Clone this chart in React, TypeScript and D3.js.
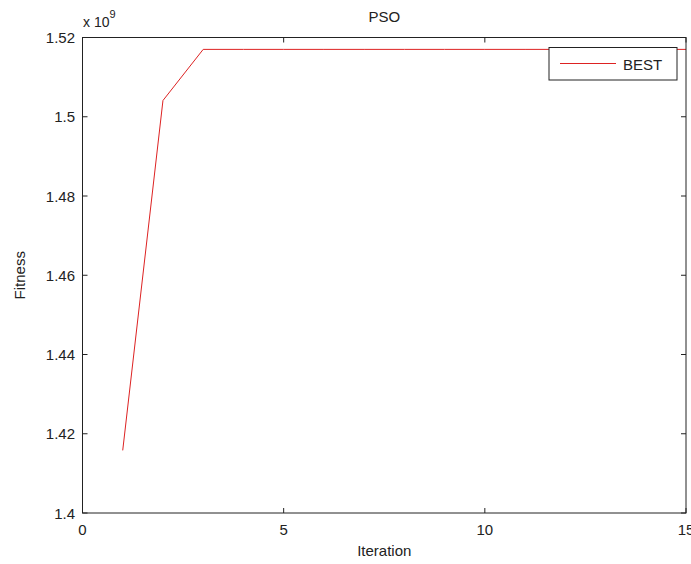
import { useEffect, useRef } from "react";
import * as d3 from "d3";

// PSO convergence: best fitness per iteration
const iterations = [1, 2, 3, 4, 5, 6, 7, 8, 9, 10, 11, 12, 13, 14, 15];
const bestFitness = [
  1.4158e9, 1.5041e9, 1.517e9, 1.517e9, 1.517e9, 1.517e9, 1.517e9, 1.517e9,
  1.517e9, 1.517e9, 1.517e9, 1.517e9, 1.517e9, 1.517e9, 1.517e9,
];
const xTicks = [0, 5, 10, 15];
const yTicks = [1.4, 1.42, 1.44, 1.46, 1.48, 1.5, 1.52];
const yTickLabels = ["1.4", "1.42", "1.44", "1.46", "1.48", "1.5", "1.52"];
const seriesName = "BEST";

const App = () => {
  const ref = useRef<SVGSVGElement | null>(null);

  useEffect(() => {
    if (!ref.current) return;
    const W = 691;
    const H = 564;
    const left = 82.5, right = 686, top = 37.5, bottom = 513;
    const font = "'Liberation Sans', Arial, sans-serif";
    const axisColor = "#222";

    const svg = d3.select(ref.current);
    svg.selectAll("*").remove();
    svg.attr("width", W).attr("height", H);

    svg.append("rect").attr("width", W).attr("height", H).attr("fill", "#fff");

    const x = d3.scaleLinear().domain([0, 15]).range([left, right]);
    const y = d3.scaleLinear().domain([1.4e9, 1.52e9]).range([bottom, top]);

    // data line
    const pts = iterations.map((it, i) => [it, bestFitness[i]] as [number, number]);
    const line = d3
      .line<[number, number]>()
      .x((d) => x(d[0]))
      .y((d) => y(d[1]));
    svg
      .append("path")
      .datum(pts)
      .attr("d", line)
      .attr("fill", "none")
      .attr("stroke", "#dd2222")
      .attr("stroke-width", 1);

    // box
    svg
      .append("rect")
      .attr("x", left)
      .attr("y", top)
      .attr("width", right - left)
      .attr("height", bottom - top)
      .attr("fill", "none")
      .attr("stroke", axisColor)
      .attr("stroke-width", 1);

    const tl = 5;
    // x ticks (bottom and top, inward)
    xTicks.forEach((t) => {
      const px = x(t);
      svg.append("line").attr("x1", px).attr("x2", px).attr("y1", bottom).attr("y2", bottom - tl).attr("stroke", axisColor);
      svg.append("line").attr("x1", px).attr("x2", px).attr("y1", top).attr("y2", top + tl).attr("stroke", axisColor);
      svg
        .append("text")
        .attr("x", px)
        .attr("y", 535)
        .attr("text-anchor", "middle")
        .attr("font-family", font)
        .attr("font-size", 15)
        .attr("fill", "#222")
        .text(String(t));
    });

    // y ticks (left and right, inward)
    yTicks.forEach((t, i) => {
      const py = y(t * 1e9);
      svg.append("line").attr("x1", left).attr("x2", left + tl).attr("y1", py).attr("y2", py).attr("stroke", axisColor);
      svg.append("line").attr("x1", right).attr("x2", right - tl).attr("y1", py).attr("y2", py).attr("stroke", axisColor);
      svg
        .append("text")
        .attr("x", 75)
        .attr("y", py + 5.5)
        .attr("text-anchor", "end")
        .attr("font-family", font)
        .attr("font-size", 15)
        .attr("fill", "#222")
        .text(yTickLabels[i]);
    });

    // exponent
    const exp = svg
      .append("text")
      .attr("x", 83)
      .attr("y", 27)
      .attr("font-family", font)
      .attr("font-size", 14)
      .attr("fill", "#222");
    exp.append("tspan").text("x 10");
    exp.append("tspan").attr("dy", -9).attr("font-size", 11).text("9");

    // title and labels
    svg
      .append("text")
      .attr("x", (left + right) / 2)
      .attr("y", 22)
      .attr("text-anchor", "middle")
      .attr("font-family", font)
      .attr("font-size", 15)
      .attr("fill", "#222")
      .text("PSO");

    svg
      .append("text")
      .attr("x", (left + right) / 2)
      .attr("y", 556)
      .attr("text-anchor", "middle")
      .attr("font-family", font)
      .attr("font-size", 15)
      .attr("fill", "#222")
      .text("Iteration");

    svg
      .append("text")
      .attr("transform", `translate(25,${(top + bottom) / 2}) rotate(-90)`)
      .attr("text-anchor", "middle")
      .attr("font-family", font)
      .attr("font-size", 15)
      .attr("fill", "#222")
      .text("Fitness");

    // legend
    const lg = svg.append("g");
    lg.append("rect")
      .attr("x", 549)
      .attr("y", 47.5)
      .attr("width", 128)
      .attr("height", 32.5)
      .attr("fill", "#fff")
      .attr("stroke", axisColor);
    lg.append("line")
      .attr("x1", 560)
      .attr("x2", 616)
      .attr("y1", 63.5)
      .attr("y2", 63.5)
      .attr("stroke", "#dd2222");
    lg.append("text")
      .attr("x", 623)
      .attr("y", 70)
      .attr("font-family", font)
      .attr("font-size", 15)
      .attr("fill", "#222")
      .text(seriesName);
  }, []);

  return (
    <div style={{ position: "absolute", left: 0, top: 0 }}>
      <svg ref={ref} style={{ display: "block" }} />
    </div>
  );
};

export default App;
